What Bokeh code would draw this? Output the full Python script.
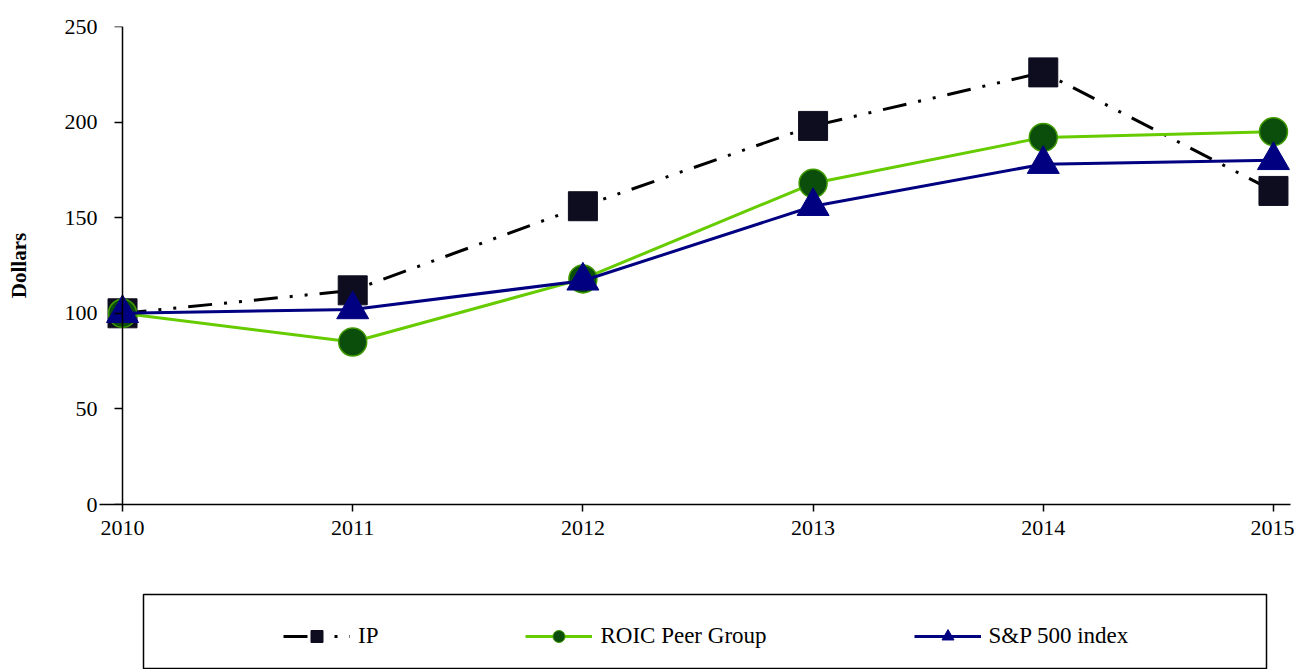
from bokeh.plotting import figure
from bokeh.layouts import column
from bokeh.models import Range1d, FixedTicker, Legend, LegendItem, LinearAxis
from bokeh.embed import file_html
from bokeh.resources import INLINE

# ---- data ----
years = [2010, 2011, 2012, 2013, 2014, 2015]
year_labels = ["2010", "2011", "2012", "2013", "2014", "2015"]
ip = [100, 112, 156, 198, 226, 164]
roic = [100, 85, 118, 168, 192, 195]
sp500 = [100, 102, 117, 156, 178, 180]
y_ticks = [0, 50, 100, 150, 200, 250]
series_names = ["IP", "ROIC Peer Group", "S&P 500 index"]

FONT = "Liberation Serif"
GREEN = "#66CC00"
DKGREEN = "#0b4d0b"
NAVY = "#000080"
BLACKISH = "#0d0d1f"
IP_DASH = "24 12 3 12 3 12"

p = figure(output_backend="svg", toolbar_location=None,
           frame_width=1191, frame_height=478,
           x_range=Range1d(2009.9, 2015.074), y_range=Range1d(0, 250),
           min_border_left=99, min_border_right=4, min_border_top=26, min_border_bottom=89,
           background_fill_color="white", border_fill_color="white")
p.outline_line_color = None
p.xgrid.visible = False
p.ygrid.visible = False

# y labels axis (at the frame's left edge, no line / ticks)
p.yaxis.ticker = FixedTicker(ticks=y_ticks)
p.yaxis.axis_line_color = None
p.yaxis.major_tick_line_color = None
p.yaxis.major_tick_in = 0
p.yaxis.major_tick_out = 0
p.yaxis.minor_tick_line_color = None
p.yaxis.major_label_standoff = 2
p.yaxis.major_label_text_font = FONT
p.yaxis.major_label_text_font_size = "22px"
p.yaxis.major_label_text_color = "black"
p.yaxis.axis_label = "Dollars"
p.yaxis.axis_label_text_font = FONT
p.yaxis.axis_label_text_font_style = "bold"
p.yaxis.axis_label_text_font_size = "21px"
p.yaxis.axis_label_text_color = "black"
p.yaxis.axis_label_standoff = 31

# y axis line + ticks at x = 2010
y_line_axis = LinearAxis(fixed_location=2010, ticker=FixedTicker(ticks=y_ticks),
                         major_label_text_font_size="1px", major_label_text_alpha=0,
                         major_label_standoff=0, major_tick_in=0, major_tick_out=8,
                         axis_line_color="black", axis_line_width=1.5,
                         major_tick_line_color="black", major_tick_line_width=1.5,
                         minor_tick_line_color=None)
p.add_layout(y_line_axis, "left")

# x axis
p.xaxis.ticker = FixedTicker(ticks=years)
p.xaxis.major_label_overrides = {y: lab for y, lab in zip(years, year_labels)}
p.xaxis.axis_line_color = "black"
p.xaxis.axis_line_width = 1.5
p.xaxis.major_tick_line_color = "black"
p.xaxis.major_tick_line_width = 1.5
p.xaxis.major_tick_in = 0
p.xaxis.major_tick_out = 7
p.xaxis.minor_tick_line_color = None
p.xaxis.major_label_standoff = 9
p.xaxis.major_label_text_font = FONT
p.xaxis.major_label_text_font_size = "22px"
p.xaxis.major_label_text_color = "black"

# series
p.line(years, ip, line_color="black", line_width=3, line_dash=IP_DASH)
p.scatter(years, ip, marker="square", size=29, fill_color=BLACKISH, line_color=BLACKISH)
p.line(years, roic, line_color=GREEN, line_width=3)
p.scatter(years, roic, marker="circle", size=28, fill_color=DKGREEN, line_color="#3f9a00", line_width=1.5)
p.line(years, sp500, line_color=NAVY, line_width=3)
p.scatter(years, sp500, marker="triangle", size=32, fill_color=NAVY, line_color=NAVY)

# legend box figure
p2 = figure(output_backend="svg", toolbar_location=None, width=1226, height=76,
            x_range=Range1d(0, 1), y_range=Range1d(0, 1),
            x_axis_type=None, y_axis_type=None, min_border=1,
            margin=(0, 0, 0, 44), background_fill_color="white", border_fill_color="white")
p2.outline_line_color = "black"
p2.outline_line_width = 1.5

off = [-10]
l1 = p2.line(x=off, y=off, line_color="black", line_width=3, line_dash=IP_DASH)
s1 = p2.scatter(x=off, y=off, marker="square", fill_color=BLACKISH, line_color=BLACKISH)
l2 = p2.line(x=off, y=off, line_color=GREEN, line_width=3)
s2 = p2.scatter(x=off, y=off, marker="circle", fill_color=DKGREEN, line_color="#3f9a00")
l3 = p2.line(x=off, y=off, line_color=NAVY, line_width=3)
s3 = p2.scatter(x=off, y=off, marker="triangle", fill_color=NAVY, line_color=NAVY)

legend = Legend(items=[LegendItem(label=series_names[0], renderers=[l1, s1]),
                       LegendItem(label=series_names[1], renderers=[l2, s2]),
                       LegendItem(label=series_names[2], renderers=[l3, s3])],
                location=(140, 17), orientation="horizontal",
                glyph_width=67, glyph_height=30, label_standoff=8, spacing=147,
                padding=0, margin=0, border_line_color=None, background_fill_alpha=0,
                label_text_font=FONT, label_text_font_size="23px", label_height=22,
                label_text_color="black")
p2.add_layout(legend)

layout = column(p, p2, spacing=0)
open("out.html", "w").write(file_html(layout, INLINE))
